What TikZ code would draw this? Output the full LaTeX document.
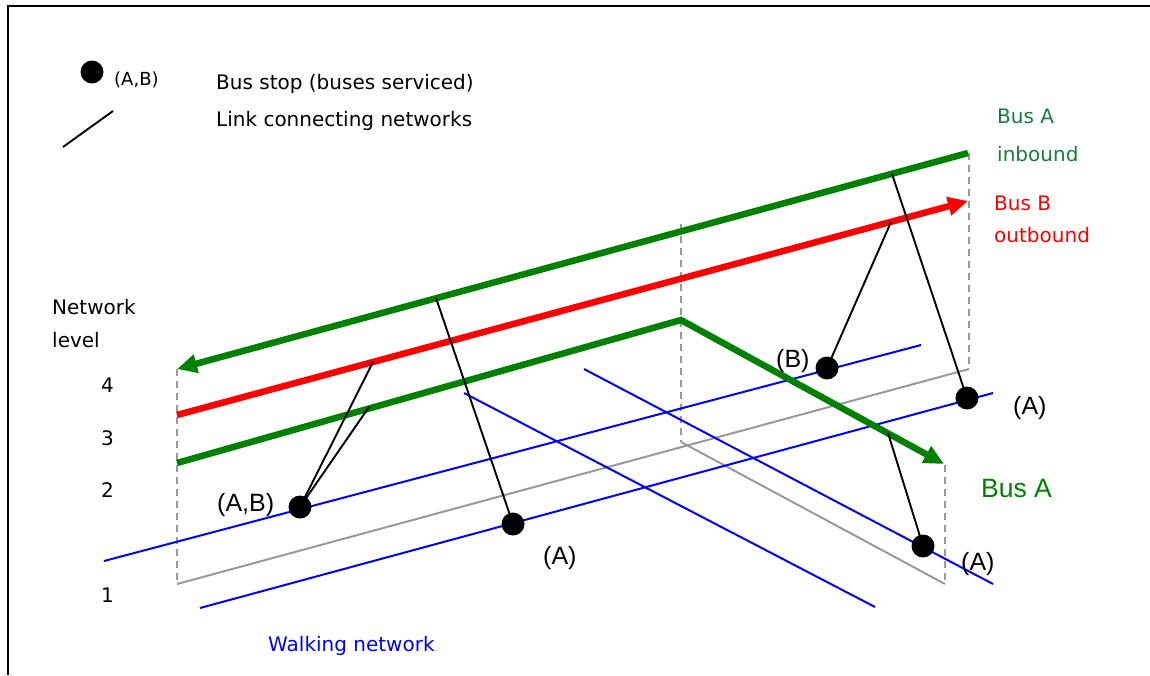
\documentclass[tikz,border=0pt]{standalone}
\usepackage{fontspec}
\setmainfont{DejaVu Sans}
\newfontfamily\arialfont{Liberation Sans}
\usetikzlibrary{arrows.meta}
\definecolor{busgreen}{RGB}{0,128,0}
\definecolor{labelgreen}{RGB}{22,125,62}
\definecolor{walkblue}{RGB}{0,0,255}
\definecolor{planegray}{RGB}{153,153,153}
\begin{document}
\begin{tikzpicture}[x=1pt,y=-1pt,
  busline/.style={line width=6.5pt},
  head/.style={-{Triangle[length=20pt,width=18pt]}},
  walk/.style={walkblue,line width=2pt},
  plane/.style={planegray,line width=2pt},
  levelmark/.style={planegray,line width=2pt,dash pattern=on 7pt off 5pt},
  link/.style={black,line width=1.9pt},
  stop/.style={circle,fill=black,inner sep=0pt,minimum size=23pt},
  txt/.style={anchor=base west,inner sep=0pt,font=\fontsize{20}{24}\selectfont},
  small/.style={anchor=base west,inner sep=0pt,font=\fontsize{18}{21}\selectfont},
  big/.style={anchor=base west,inner sep=0pt,font=\arialfont\fontsize{25}{29}\selectfont},
  bigger/.style={anchor=base west,inner sep=0pt,font=\arialfont\fontsize{26.5}{30}\selectfont}]
\useasboundingbox (0,0) rectangle (1150,675);

% frame
\draw[line width=2pt] (8,675) -- (8,6) -- (1150,6);

% legend
\node[stop] (legdot) at (92,72) {};
\node[small] (legab) at (114,85) {(A,B)};
\node[txt] (legstop) at (216,89) {Bus stop (buses serviced)};
\coordinate (legl1) at (63,147);
\coordinate (legl2) at (113,111);
\draw[link] (legl1) -- (legl2);
\node[txt] (leglink) at (216,126) {Link connecting networks};

% level axis
\node[txt] (netw) at (52,314) {Network};
\node[txt] (lev) at (52,347) {level};
\node[txt] (lv4) at (101,392) {4};
\node[txt] (lv3) at (101,445) {3};
\node[txt] (lv2) at (101,497) {2};
\node[txt] (lv1) at (101,602) {1};

% corners of the layered planes
\coordinate (pL) at (177,584);
\coordinate (pR) at (969,369);
\coordinate (pM) at (681,442);
\coordinate (pD) at (945,584);
\coordinate (tL) at (177,369);
\coordinate (tR) at (969,153);
\coordinate (tM) at (681,224);
\coordinate (tD) at (945,465);

% vertical level guides
\draw[levelmark] (tL) -- (pL);
\draw[levelmark] (tM) -- (pM);
\draw[levelmark] (tR) -- (pR);
\draw[levelmark] (tD) -- (pD);

% ground plane edges
\draw[plane] (pL) -- (pR);
\draw[plane] (pM) -- (pD);

% walking network
\coordinate (w1a) at (104,561);  \coordinate (w1b) at (921,345);
\coordinate (w2a) at (200,608);  \coordinate (w2b) at (993,393);
\coordinate (w3a) at (464,393);  \coordinate (w3b) at (875,607);
\coordinate (w4a) at (584,369);  \coordinate (w4b) at (993,584);
\draw[walk] (w1a) -- (w1b);
\draw[walk] (w2a) -- (w2b);
\draw[walk] (w3a) -- (w3b);
\draw[walk] (w4a) -- (w4b);

% bus routes
\coordinate (ainS) at (968,153);
\coordinate (ainE) at (177,369);
\draw[busline,busgreen,head] (ainS) -- (ainE);
\coordinate (boutS) at (177,415);
\coordinate (boutE) at (968,201);
\draw[busline,red,head] (boutS) -- (boutE);
\coordinate (aS) at (177,463);
\coordinate (aM) at (681,320);
\coordinate (aE) at (944,464);
\draw[busline,busgreen,head] (aS) -- (aM) -- (aE);

% bus stops
\node[stop] (sAB) at (300,507) {};
\node[stop] (sA1) at (513,524) {};
\node[stop] (sB)  at (827,368) {};
\node[stop] (sA2) at (967,398) {};
\node[stop] (sA3) at (923,546) {};

% links between networks
\coordinate (kAB1) at (373,362);
\coordinate (kAB2) at (369,407);
\coordinate (kA1) at (436,298);
\coordinate (kB) at (891,222);
\coordinate (kA2) at (892,174);
\coordinate (kA3) at (888,433);
\draw[link] (sAB.center) -- (kAB1);
\draw[link] (sAB.center) -- (kAB2);
\draw[link] (sA1.center) -- (kA1);
\draw[link] (sB.center) -- (kB);
\draw[link] (sA2.center) -- (kA2);
\draw[link] (sA3.center) -- (kA3);

% stop labels
\node[big] (lAB) at (217,511) {(A,B)};
\node[big] (lA1) at (543,564) {(A)};
\node[big] (lB)  at (776,367) {(B)};
\node[big] (lA2) at (1013,414) {(A)};
\node[big] (lA3) at (961,570) {(A)};

% route labels
\node[txt,labelgreen] (tA) at (997,123) {Bus A};
\node[txt,labelgreen] (tAin) at (997,161) {inbound};
\node[txt,red] (tB) at (994,210) {Bus B};
\node[txt,red] (tBout) at (994,242) {outbound};
\node[bigger,busgreen] (tBusA) at (981,497) {Bus A};
\node[txt,walkblue] (walk) at (268,651) {Walking network};
\end{tikzpicture}
\end{document}
